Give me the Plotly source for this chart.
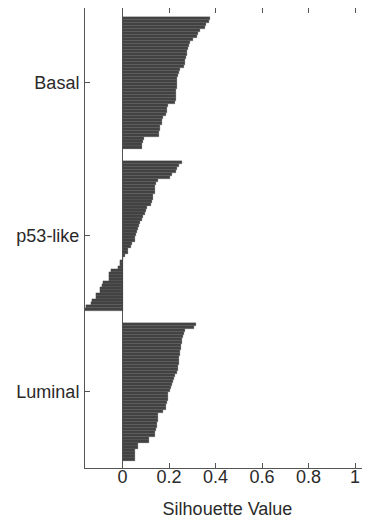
import plotly.graph_objects as go

clusters = ["Basal", "p53-like", "Luminal"]

basal = [0.376, 0.372, 0.359, 0.355, 0.333, 0.325, 0.319, 0.305, 0.290, 0.284,
         0.283, 0.277, 0.276, 0.274, 0.269, 0.267, 0.265, 0.248, 0.242, 0.240,
         0.236, 0.234, 0.233, 0.233, 0.232, 0.231, 0.230, 0.228, 0.226, 0.197,
         0.193, 0.190, 0.186, 0.173, 0.170, 0.168, 0.162, 0.161, 0.158, 0.157,
         0.092, 0.090, 0.084, 0.082]

p53_like = [0.255, 0.245, 0.233, 0.230, 0.211, 0.205, 0.154, 0.142, 0.140, 0.139,
            0.138, 0.133, 0.131, 0.125, 0.123, 0.104, 0.102, 0.097, 0.090, 0.082,
            0.075, 0.070, 0.068, 0.061, 0.060, 0.054, 0.052, 0.039, 0.037, 0.025,
            0.022, 0.011, 0.002, -0.011, -0.012, -0.018, -0.050, -0.057, -0.057, -0.058,
            -0.085, -0.087, -0.097, -0.098, -0.114, -0.116, -0.133, -0.134, -0.158, -0.165]

luminal = [0.314, 0.308, 0.269, 0.265, 0.259, 0.258, 0.257, 0.252, 0.251, 0.247,
           0.246, 0.245, 0.243, 0.242, 0.240, 0.237, 0.236, 0.226, 0.222, 0.216,
           0.214, 0.207, 0.205, 0.197, 0.196, 0.194, 0.190, 0.189, 0.186, 0.176,
           0.153, 0.151, 0.151, 0.150, 0.147, 0.146, 0.140, 0.139, 0.115, 0.113,
           0.068, 0.066, 0.054, 0.054, 0.053, 0.052]

x_ticks = [0, 0.2, 0.4, 0.6, 0.8, 1]
x_tick_labels = ["0", "0.2", "0.4", "0.6", "0.8", "1"]

series = [basal, p53_like, luminal]
lead = 3
gap = 4

ys, xs, centers = [], [], []
pos = lead
for vals in series:
    start = pos
    for v in vals:
        ys.append(pos + 0.5)
        xs.append(v)
        pos += 1
    centers.append((start + pos) / 2)
    pos += gap
y_end = pos - gap + 2.5

fig = go.Figure()
fig.add_trace(go.Bar(
    x=xs, y=ys, orientation="h", width=1.0,
    marker=dict(color="#424242", line=dict(color="#4c4c4c", width=0.25)),
    showlegend=False,
))

axis_font = dict(family="Liberation Sans, Arial, sans-serif", size=18, color="#2a2a2a")

fig.update_layout(
    width=362, height=515,
    margin=dict(l=77, r=0, t=0, b=55),
    paper_bgcolor="white", plot_bgcolor="white",
    bargap=0,
    font=axis_font,
)
fig.update_xaxes(
    range=[-0.1613, 1.0645],
    tickvals=x_ticks, ticktext=x_tick_labels,
    ticks="inside", ticklen=5, tickcolor="#555555",
    showline=True, linecolor="#555555", linewidth=1, mirror="ticks",
    showgrid=False, zeroline=True, zerolinecolor="#555555", zerolinewidth=1,
    title=dict(text="Silhouette Value", font=dict(size=18), standoff=16),
    tickfont=dict(size=18),
    ticklabelstandoff=-8,
)
fig.update_yaxes(
    range=[y_end, 0],
    tickvals=centers, ticktext=clusters,
    ticks="inside", ticklen=5, tickcolor="#555555",
    showline=True, linecolor="#555555", linewidth=1, mirror="ticks",
    showgrid=False, zeroline=False,
    tickfont=dict(size=18),
    ticklabelstandoff=1,
)

fig.write_html("out.html")
